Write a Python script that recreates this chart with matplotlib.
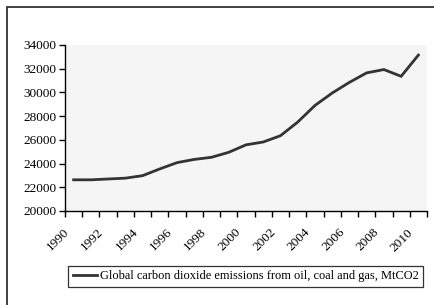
import matplotlib
matplotlib.use("Agg")
import matplotlib.pyplot as plt
from matplotlib.patches import Rectangle
from matplotlib.transforms import ScaledTranslation

years = [1990, 1991, 1992, 1993, 1994, 1995, 1996, 1997, 1998, 1999, 2000,
         2001, 2002, 2003, 2004, 2005, 2006, 2007, 2008, 2009, 2010]
emissions = [22630, 22630, 22700, 22770, 22980, 23550, 24080, 24350, 24530, 24950, 25580,
             25820, 26350, 27500, 28900, 29950, 30850, 31650, 31930, 31360, 33150]
series_label = "Global carbon dioxide emissions from oil, coal and gas, MtCO2"
yticks = list(range(20000, 34001, 2000))
label_years = years[::2]

plt.rcParams['font.family'] = ['Liberation Serif', 'DejaVu Serif']

W, H = 435, 305
fig = plt.figure(figsize=(W / 100, H / 100), dpi=100)
fig.patch.set_facecolor('white')

# outer chart frame (cut at right and bottom)
fig.patches.append(Rectangle((7 / W, -0.05), 1.2, (1 - 7 / H) + 0.05,
                             transform=fig.transFigure, fill=False,
                             edgecolor='#333333', linewidth=1.3))

ax = fig.add_axes([65 / W, 1 - 211 / H, (427 - 65) / W, (211 - 45) / H])
ax.set_facecolor('#f5f5f5')

x = list(range(len(years)))
line, = ax.plot(x, emissions, color='#333333', linewidth=2.0, solid_joinstyle='miter',
                label=series_label)

ax.set_xlim(-0.5, len(years) - 0.5)
ax.set_ylim(20000, 34000)
ax.set_yticks(yticks)
ax.set_yticklabels([str(v) for v in yticks], fontsize=9.5)

ax.set_xticks([i - 0.5 for i in range(len(years) + 1)])
ax.set_xticklabels([])
ax.set_xticks([years.index(y) for y in label_years], minor=True)
ax.set_xticklabels([str(y) for y in label_years], minor=True, rotation=45,
                   ha='right', va='top', fontsize=9.5, rotation_mode='anchor')
ax.tick_params(axis='x', which='major', length=4, width=1, direction='out', color='black')
ax.tick_params(axis='x', which='minor', length=0, pad=6)
ax.tick_params(axis='y', length=4, width=1, direction='out', color='black', pad=2)
off = ScaledTranslation(-11 / 100, -7 / 100, fig.dpi_scale_trans)
for lbl in ax.get_xticklabels(minor=True):
    lbl.set_transform(lbl.get_transform() + off)

for s in ['top', 'right']:
    ax.spines[s].set_visible(False)
for s in ['left', 'bottom']:
    ax.spines[s].set_color('black')
    ax.spines[s].set_linewidth(1.0)

leg = fig.legend(handles=[line], labels=[series_label], loc='center',
                 bbox_to_anchor=(245.5 / W, 1 - 276.5 / H), fontsize=8.9,
                 frameon=True, fancybox=False, handlelength=2.0, handletextpad=0.2,
                 borderpad=0.35, borderaxespad=0)
leg.get_frame().set_edgecolor('black')
leg.get_frame().set_linewidth(0.9)

fig.savefig('out.png', dpi=100, facecolor='white')
